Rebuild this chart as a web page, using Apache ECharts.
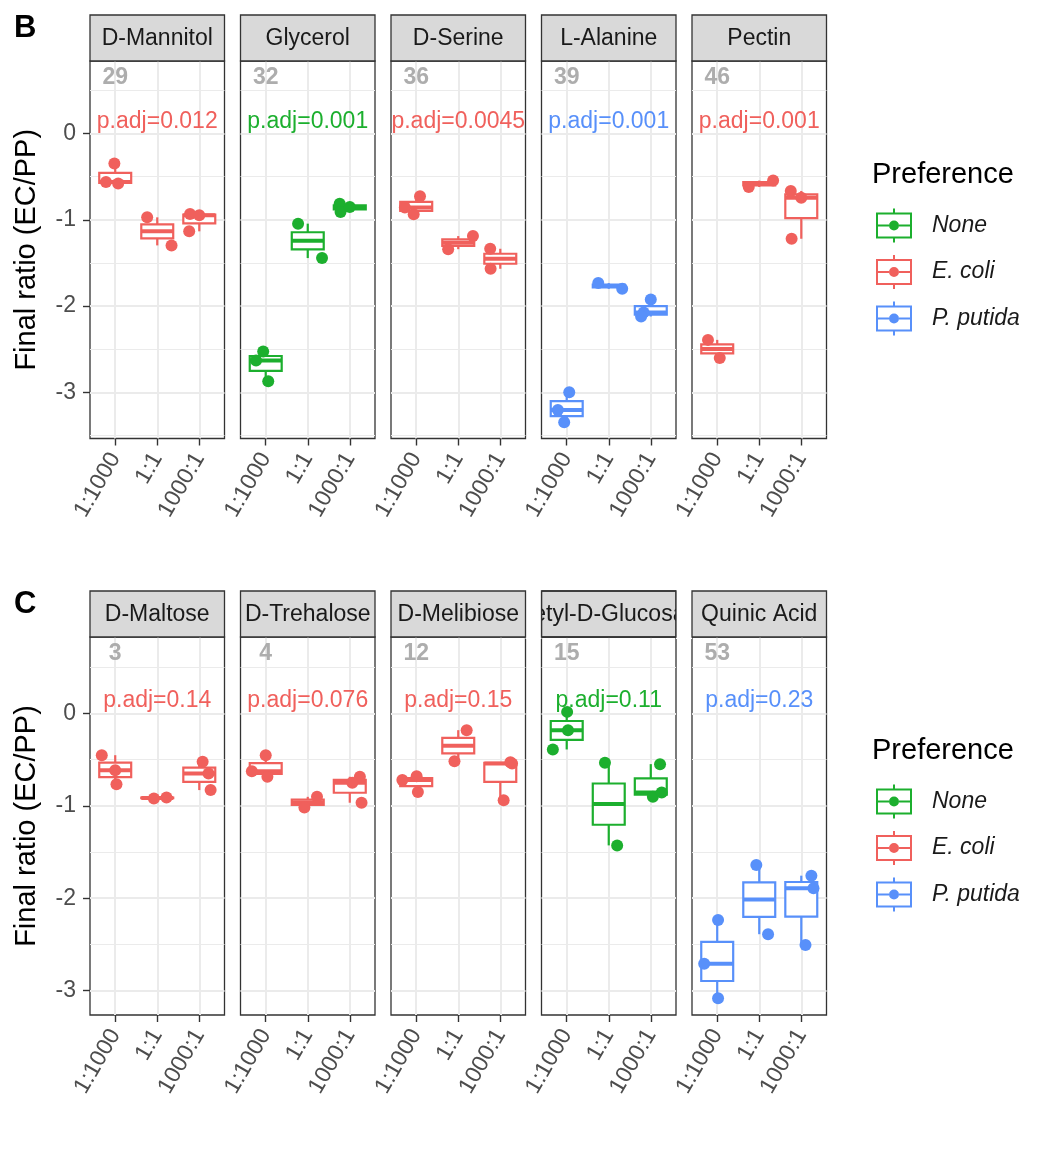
<!DOCTYPE html>
<html>
<head>
<meta charset="utf-8">
<title>Final ratio boxplots</title>
<script src="https://cdn.jsdelivr.net/npm/echarts@6/dist/echarts.min.js"></script>
<style>
html, body { margin: 0; padding: 0; background: #fff; }
#chart { width: 1056px; height: 1152px; }
</style>
</head>
<body>
<div id="chart"></div>
<script>
// ---- data ----
var ratios = ['1:1000', '1:1', '1000:1'];
var prefs = ['None', 'E. coli', 'P. putida'];
var prefColors = ['#1CAF2E', '#F0605C', '#5890FA'];

// panel row B
var panelsB = ['D-Mannitol', 'Glycerol', 'D-Serine', 'L-Alanine', 'Pectin'];
var countsB = [29, 32, 36, 39, 46];
var padjB = ['0.012', '0.001', '0.0045', '0.001', '0.001'];
var prefB = ['E. coli', 'None', 'E. coli', 'P. putida', 'E. coli'];

// panel row C
var panelsC = ['D-Maltose', 'D-Trehalose', 'D-Melibiose', 'N-Acetyl-D-Glucosamine', 'Quinic Acid'];
var countsC = [3, 4, 12, 15, 53];
var padjC = ['0.14', '0.076', '0.15', '0.11', '0.23'];
var prefC = ['E. coli', 'E. coli', 'E. coli', 'None', 'P. putida'];

// log ratio values per starting ratio (1:1000, 1:1, 1000:1), and horizontal jitter
var dMannitol = [[-0.348, -0.561, -0.580], [-0.971, -1.296], [-0.932, -0.948, -1.133]];
var dMannitolJit = [[-0.02, -0.22, 0.07], [-0.24, 0.34], [-0.22, 0.00, -0.24]];
var glycerol = [[-2.526, -2.630, -2.870], [-1.044, -1.443], [-0.812, -0.909, -0.851]];
var glycerolJit = [[-0.06, -0.23, 0.06], [-0.23, 0.34], [-0.24, -0.22, 0.00]];
var dSerine = [[-0.727, -0.857, -0.936], [-1.188, -1.340], [-1.335, -1.567]];
var dSerineJit = [[0.09, -0.27, -0.06], [0.35, -0.24], [-0.24, -0.23]];
var lAlanine = [[-2.998, -3.203, -3.346], [-1.733, -1.799], [-1.923, -2.075, -2.120]];
var lAlanineJit = [[0.06, -0.21, -0.06], [-0.25, 0.32], [0.00, -0.17, -0.23]];
var pectin = [[-2.391, -2.600], [-0.619, -0.545], [-0.665, -0.743, -1.219]];
var pectinJit = [[-0.22, 0.06], [-0.25, 0.33], [-0.25, 0.00, -0.23]];

var dMaltose = [[-0.451, -0.613, -0.765], [-0.920, -0.909], [-0.523, -0.650, -0.829]];
var dMaltoseJit = [[-0.32, 0.00, 0.03], [-0.08, 0.22], [0.08, 0.22, 0.27]];
var dTrehalose = [[-0.451, -0.624, -0.685], [-1.017, -0.902], [-0.685, -0.750, -0.966]];
var dTrehaloseJit = [[0.00, -0.33, 0.04], [-0.08, 0.22], [0.24, 0.06, 0.28]];
var dMelibiose = [[-0.721, -0.678, -0.851], [-0.180, -0.516], [-0.541, -0.527, -0.938]];
var dMelibioseJit = [[-0.33, 0.01, 0.04], [0.20, -0.09], [0.28, 0.24, 0.08]];
var nAcGlucosamine = [[0.018, -0.180, -0.389], [-0.534, -1.428], [-0.548, -0.902, -0.855]];
var nAcGlucosamineJit = [[0.01, 0.03, -0.33], [-0.09, 0.20], [0.22, 0.05, 0.26]];
var quinicAcid = [[-2.237, -2.710, -3.084], [-1.640, -2.390], [-1.756, -1.893, -2.506]];
var quinicAcidJit = [[0.02, -0.31, 0.02], [-0.07, 0.21], [0.24, 0.29, 0.10]];

var valuesB = [dMannitol, glycerol, dSerine, lAlanine, pectin];
var jitterB = [dMannitolJit, glycerolJit, dSerineJit, lAlanineJit, pectinJit];
var valuesC = [dMaltose, dTrehalose, dMelibiose, nAcGlucosamine, quinicAcid];
var jitterC = [dMaltoseJit, dTrehaloseJit, dMelibioseJit, nAcGlucosamineJit, quinicAcidJit];

// ---- layout ----
var FONT = '"Liberation Sans", Arial, sans-serif';
var panelLeft = 90, panelStep = 150.5, panelW = 134.5, stripH = 46;
var boxWidth = 0.76;

var rows = [
    { letter: 'B', panels: panelsB, counts: countsB, padj: padjB, pref: prefB, vals: valuesB, jit: jitterB,
      top: 61, height: 377.5, ymin: -3.534, ymax: 0.841, legendTop: 208.5, titleY: 175 },
    { letter: 'C', panels: panelsC, counts: countsC, padj: padjC, pref: prefC, vals: valuesC, jit: jitterC,
      top: 637, height: 378, ymin: -3.265, ymax: 0.829, legendTop: 784.5, titleY: 751 }
];

// ggplot style quantile (type 7)
function quantile(s, p) {
    var h = (s.length - 1) * p, lo = Math.floor(h);
    return lo + 1 < s.length ? s[lo] + (h - lo) * (s[lo + 1] - s[lo]) : s[lo];
}
function boxStats(v) {
    var s = v.slice().sort(function (a, b) { return a - b; });
    var q1 = quantile(s, 0.25), md = quantile(s, 0.5), q3 = quantile(s, 0.75);
    var iqr = q3 - q1;
    var inside = s.filter(function (d) { return d >= q1 - 1.5 * iqr && d <= q3 + 1.5 * iqr; });
    return [inside[0], q1, md, q3, inside[inside.length - 1]];
}
function colorOf(p) { return prefColors[prefs.indexOf(p)]; }

function renderBox(params, api) {
    var x = api.value(0);
    var lo = api.value(1), q1 = api.value(2), md = api.value(3), q3 = api.value(4), hi = api.value(5);
    var h = boxWidth / 2;
    var tl = api.coord([x - h, q3]), br = api.coord([x + h, q1]);
    var ml = api.coord([x - h, md]), mr = api.coord([x + h, md]);
    var pHi = api.coord([x, hi]), pQ3 = api.coord([x, q3]), pQ1 = api.coord([x, q1]), pLo = api.coord([x, lo]);
    var col = api.visual('color');
    return {
        type: 'group',
        children: [
            { type: 'line', shape: { x1: pHi[0], y1: pHi[1], x2: pQ3[0], y2: pQ3[1] }, style: { stroke: col, lineWidth: 2.2 } },
            { type: 'line', shape: { x1: pQ1[0], y1: pQ1[1], x2: pLo[0], y2: pLo[1] }, style: { stroke: col, lineWidth: 2.2 } },
            { type: 'rect', shape: { x: tl[0], y: tl[1], width: br[0] - tl[0], height: br[1] - tl[1] },
              style: { fill: '#fff', stroke: col, lineWidth: 2.2 } },
            { type: 'line', shape: { x1: ml[0], y1: ml[1], x2: mr[0], y2: mr[1] }, style: { stroke: col, lineWidth: 4 } }
        ]
    };
}

var measureCtx = document.createElement('canvas').getContext('2d');
measureCtx.font = '23px ' + FONT;

var grids = [], xAxes = [], yAxes = [], series = [], graphics = [], legends = [];

var keyIcon = 'path://M17,0H19V4H17Z M0,4H36V6H0Z M0,28H36V30H0Z M0,6H2V28H0Z M34,6H36V28H34Z ' +
    'M2,16H13V18H2Z M23,16H34V18H23Z M17,30H19V34H17Z M13,17A5,5,0,1,0,23,17A5,5,0,1,0,13,17Z';

rows.forEach(function (row, r) {
    var stripTop = row.top - stripH;
    row.panels.forEach(function (name, i) {
        var k = r * 5 + i;
        var left = panelLeft + i * panelStep;
        var first = i === 0;
        var col = colorOf(row.pref[i]);

        grids.push({ left: left, top: row.top, width: panelW, height: row.height, show: true,
            borderColor: '#333', borderWidth: 1.3, backgroundColor: '#fff', outerBoundsMode: 'none' });

        xAxes.push({
            gridIndex: k, type: 'value', min: -0.6, max: 2.6, position: 'bottom',
            axisLine: { show: false, onZero: false },
            axisTick: { show: true, customValues: [0, 1, 2], length: 7, lineStyle: { color: '#333', width: 1.4 } },
            axisLabel: { customValues: [0, 1, 2], rotate: 60, margin: 16, fontSize: 23, fontFamily: FONT, color: '#4D4D4D',
                formatter: function (v) { return ratios[Math.round(v)]; } },
            splitLine: { show: true, lineStyle: { color: '#EBEBEB', width: 2 } }
        });
        yAxes.push({
            gridIndex: k, type: 'value', min: row.ymin, max: row.ymax, position: 'left',
            axisLine: { show: false, onZero: false },
            axisTick: { show: first, customValues: [-3, -2, -1, 0], length: 7, lineStyle: { color: '#333', width: 1.4 } },
            axisLabel: { show: first, customValues: [-3, -2, -1, 0], margin: 14, fontSize: 23, fontFamily: FONT, color: '#4D4D4D' },
            splitLine: { show: true, lineStyle: { color: '#EBEBEB', width: 2 } }
        });
        yAxes.push({
            gridIndex: k, type: 'value', min: row.ymin, max: row.ymax, position: 'left',
            axisLine: { show: false, onZero: false },
            axisTick: { show: false, customValues: [0.5, -0.5, -1.5, -2.5, -3.5] },
            axisLabel: { show: false },
            splitLine: { show: true, lineStyle: { color: '#EBEBEB', width: 1.2 } }
        });

        var boxes = [], points = [];
        row.vals[i].forEach(function (grp, g) {
            boxes.push([g].concat(boxStats(grp)));
            grp.forEach(function (v, n) { points.push([g + row.jit[i][g][n], v]); });
        });

        series.push({
            type: 'custom', name: row.pref[i], xAxisIndex: k, yAxisIndex: 2 * k, z: 2, silent: true,
            itemStyle: { color: col }, encode: { x: 0, y: [1, 2, 3, 4, 5] },
            renderItem: renderBox, data: boxes
        });
        series.push({
            type: 'scatter', name: row.pref[i], xAxisIndex: k, yAxisIndex: 2 * k, z: 3, silent: true,
            symbolSize: 12, itemStyle: { color: col, opacity: 1 }, data: points
        });
        series.push({
            type: 'scatter', name: 'note' + k, xAxisIndex: k, yAxisIndex: 2 * k, z: 4, silent: true,
            symbolSize: 1, itemStyle: { color: 'rgba(0,0,0,0)', opacity: 1 },
            label: { show: true, position: 'inside', fontSize: 23, fontFamily: FONT, opacity: 1 },
            data: [
                { value: [0, 0.645], label: { formatter: String(row.counts[i]), color: '#ADADAD', fontWeight: 'bold' } },
                { value: [1, 0.143], label: { formatter: 'p.adj=' + row.padj[i], color: col } }
            ]
        });

        // facet strip; long names are clipped to the strip by covering their overflow
        var long = measureCtx.measureText(name).width > panelW - 4;
        graphics.push({ type: 'rect', z: long ? 5 : 10, silent: true,
            shape: { x: left, y: stripTop, width: panelW, height: stripH },
            style: { fill: '#D9D9D9', stroke: '#333', lineWidth: 1.3 } });
        graphics.push({ type: 'text', z: long ? 6 : 11, silent: true, x: left + panelW / 2, y: stripTop + stripH / 2 + 1,
            style: { text: name, font: '23px ' + FONT, fill: '#1A1A1A', align: 'center', verticalAlign: 'middle',
                     textAlign: 'center', textVerticalAlign: 'middle' } });
        if (long) {
            var gap = panelStep - panelW;
            graphics.push({ type: 'rect', z: 8, silent: true, shape: { x: left - gap, y: stripTop - 2, width: gap, height: stripH + 4 }, style: { fill: '#fff' } });
            graphics.push({ type: 'rect', z: 8, silent: true, shape: { x: left + panelW, y: stripTop - 2, width: gap, height: stripH + 4 }, style: { fill: '#fff' } });
            graphics.push({ type: 'rect', z: 12, silent: true, shape: { x: left, y: stripTop, width: panelW, height: stripH },
                style: { fill: 'none', stroke: '#333', lineWidth: 1.3 } });
        }
    });

    // row letter, axis title, legend title
    graphics.push({ type: 'text', z: 20, x: 14, y: stripTop + 13, silent: true,
        style: { text: row.letter, font: 'bold 31px ' + FONT, fill: '#000', align: 'left', verticalAlign: 'middle',
                 textAlign: 'left', textVerticalAlign: 'middle' } });
    graphics.push({ type: 'text', z: 20, x: 27, y: row.top + row.height / 2, rotation: Math.PI / 2, silent: true,
        style: { text: 'Final ratio (EC/PP)', font: '29px ' + FONT, fill: '#000', align: 'center', verticalAlign: 'middle',
                 textAlign: 'center', textVerticalAlign: 'middle' } });
    graphics.push({ type: 'text', z: 20, x: 872, y: row.titleY, silent: true,
        style: { text: 'Preference', font: '29px ' + FONT, fill: '#000', align: 'left', verticalAlign: 'middle',
                 textAlign: 'left', textVerticalAlign: 'middle' } });

    legends.push({
        data: prefs.map(function (p) { return { name: p, icon: keyIcon }; }),
        left: 876, top: row.legendTop, orient: 'vertical', padding: 0,
        itemWidth: 36, itemHeight: 34, itemGap: 12.5, selectedMode: false,
        textStyle: { fontSize: 23, fontStyle: 'italic', fontFamily: FONT, color: '#1A1A1A', padding: [0, 0, 0, 15] }
    });
});

var chart = echarts.init(document.getElementById('chart'));
chart.setOption({
    animation: false,
    backgroundColor: '#fff',
    textStyle: { fontFamily: FONT },
    grid: grids,
    xAxis: xAxes,
    yAxis: yAxes,
    legend: legends,
    graphic: graphics,
    series: series
});
</script>
</body>
</html>
